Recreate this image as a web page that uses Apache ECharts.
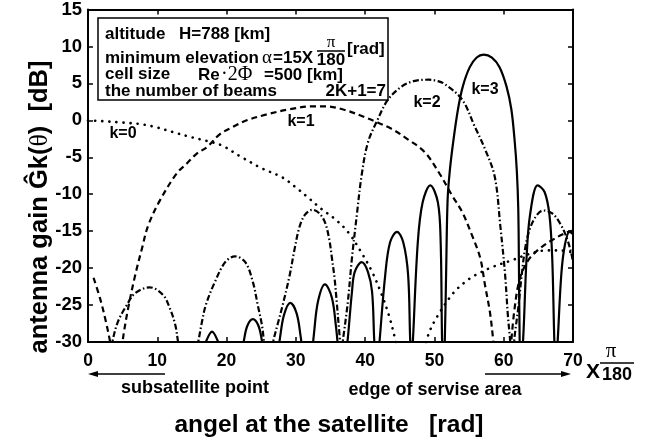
<!DOCTYPE html>
<html>
<head>
<meta charset="utf-8">
<script src="https://cdn.jsdelivr.net/npm/echarts@6/dist/echarts.min.js"></script>
<style>
html,body{margin:0;padding:0;background:#fff;}
#chart{width:653px;height:439px;}
</style>
</head>
<body>
<div id="chart"></div>
<script>
// ---- data (x: angle in degrees*pi/180 units, y: gain dB); null = gap (below -30 dB) ----
const xTicks = [0, 10, 20, 30, 40, 50, 60, 70];
const yTicks = [-30, -25, -20, -15, -10, -5, 0, 5, 10, 15];
const seriesNames = ['k=0', 'k=1', 'k=2', 'k=3'];

const k0 = [[0,0],[2,-0.1],[4.9,-0.3],[7.5,-0.5],[9.7,-0.9],[12.3,-1.6],[15,-2.3],[17.2,-2.8],[19.3,-3.4],[22.2,-5],[25.1,-6.5],[28,-7.7],[29.9,-9],[31.7,-10.4],[33.7,-12],[35.7,-13.4],[37.6,-15.2],[39.4,-17.8],[41,-20.5],[42.4,-23.6],[43.5,-26.6],[44.3,-29.5],[44.6,-31],
  null,
  [48.6,-31],[49.2,-28.8],[50.5,-26.4],[52.7,-23.4],[54.4,-21.9],[55.8,-21],[58.5,-19.8],[61.3,-18.9],[63.3,-18.2],[66.2,-17.6],[68,-17.6],[70,-17.9]];

const k1 = [[0.8,-21.3],[1.8,-24.3],[2.6,-27.3],[3.2,-30],[3.4,-31],
  null,
  [4.9,-31],[5.1,-29.2],[5.8,-25.4],[6.8,-21],[7.8,-17.3],[8.7,-14.2],[10.4,-10.8],[12.8,-7.2],[14.3,-5.8],[15.7,-4.5],[17.2,-3.6],[19,-1.9],[20.9,-0.9],[22.9,0],[25.8,0.8],[29.1,1.5],[32.5,1.9],[34.2,1.9],[37.1,1.4],[40,0.4],[41.8,-0.3],[43.9,-1.2],[46.2,-2.6],[48.6,-4.3],[50.8,-7.3],[52.5,-10.1],[54,-12.4],[55.4,-15.5],[56.6,-18.6],[57.3,-22.3],[58,-25.9],[58.4,-29],[58.6,-31],
  null,
  [61,-31],[61.5,-26],[62.3,-21.5],[63.5,-19],[65,-17.5],[67,-16.2],[69,-15.2],[70,-14.9]];

const k2 = [[3.3,-31],[3.5,-30],[4.3,-27.3],[5.6,-25],[6.8,-23.4],[8.9,-22.6],[10.8,-23.6],[11.8,-25.4],[12.6,-27.7],[13,-30],[13.2,-31],
  null,
  [15.6,-31],[15.9,-30],[16.4,-27.5],[17,-25],[18.3,-21.9],[19.8,-19.2],[21.2,-18.4],[22.7,-19.2],[23.8,-21.9],[24.5,-25],[25.1,-27.7],[25.4,-30],[25.5,-31],
  null,
  [26.5,-31],[26.7,-30],[27.4,-27.5],[28.1,-25],[29.1,-21],[29.8,-17.5],[30.5,-14.5],[31.3,-12.8],[32.4,-12.1],[33.4,-12.6],[34.2,-13.8],[34.8,-16],[35.2,-18.6],[35.6,-21.5],[35.9,-24.6],[36.3,-29],[36.5,-31],
  null,
  [36.6,-31],[36.8,-29.7],[37.5,-24.6],[38.1,-18.6],[38.8,-12.8],[39.5,-7.4],[40.4,-3.0],[41.8,0.1],[43.3,2.8],[45.3,4.6],[47,5.3],[49.2,5.5],[50.5,5.3],[51.5,4.9],[54,2.8],[55.8,-0.8],[57.3,-3.9],[58.7,-7.6],[59.5,-14.2],[60.2,-20.9],[60.6,-26.4],[60.9,-29.5],[61,-31],
  null,
  [61.4,-31],[61.6,-29],[62.1,-25.4],[62.6,-20.9],[63.1,-17.3],[63.8,-14.6],[64.8,-12.8],[65.7,-12.2],[67,-12.6],[68.1,-13.9],[69.1,-15.9],[69.8,-18.2],[70,-19.2]];

const k3 = [[16.8,-31],[17.1,-29.8],[17.9,-28.6],[18.7,-29.8],[19,-31],
  null,
  [22.3,-31],[22.5,-29.8],[23,-27.8],[23.8,-26.9],[24.6,-27.8],[25.1,-29.8],[25.3,-31],
  null,
  [27.5,-31],[27.7,-29.5],[28.3,-26.3],[29.2,-24.7],[30.1,-26.1],[30.7,-29.3],[30.9,-31],
  null,
  [32.4,-31],[32.6,-29],[33.2,-24.5],[34.2,-22.2],[35.2,-24],[35.8,-28],[36.1,-31],
  null,
  [37.3,-31],[37.5,-29.5],[38.1,-23.2],[38.5,-20.5],[39.5,-19.2],[40.4,-20.5],[41,-23.2],[41.3,-29.5],[41.4,-31],
  null,
  [42,-31],[42.1,-29.7],[42.9,-20.9],[43.6,-16.5],[44.6,-15.1],[45.5,-16.5],[46.2,-20.9],[46.5,-29.7],[46.6,-31],
  null,
  [46.8,-31],[46.9,-29.7],[47.6,-16.5],[48.3,-11.1],[49.4,-8.8],[50.5,-11.1],[50.9,-16.5],[51.1,-29.7],[51.2,-31],
  null,
  [51.4,-31],[51.5,-29.7],[51.7,-20],[51.9,-10.8],[52.2,-7],[52.7,-3],[53.4,1.5],[54.1,4.6],[55.1,7.2],[56.1,8.5],[57.1,8.9],[58.3,8.5],[59.4,7.2],[60.4,4.6],[61.1,1.5],[61.6,-3],[61.9,-7],[62.1,-12],[62.2,-20],[62.3,-29.7],[62.4,-31],
  null,
  [62.6,-31],[62.8,-29.7],[63.3,-18.6],[63.8,-12.8],[64.9,-8.8],[65.9,-9.7],[66.6,-12.8],[67,-18.6],[67.3,-29.7],[67.4,-31],
  null,
  [67.7,-31],[67.8,-29.7],[68.3,-21],[68.8,-17],[69.5,-15.1],[70,-15.4]];

// ---- build ----
const FONT = 'Liberation Sans, Arial, Helvetica, sans-serif';
const SERIF = 'Liberation Serif, Times New Roman, serif';
function toData(arr){ return arr.map(p => p === null ? ['-','-'] : p); }

const lineStyles = [
  {color:'#000', width:2.6, type:[0.1,7], cap:'round'},
  {color:'#000', width:2.2, type:[6,4]},
  {color:'#000', width:2.2, type:[6,2.5,1.5,2.5]},
  {color:'#000', width:2.2, type:'solid'}
];
const allData = [k0, k1, k2, k3];

const chart = echarts.init(document.getElementById('chart'), null, {renderer:'canvas'});

const axisCommon = {
  axisLine:{show:true, onZero:false, lineStyle:{color:'#000', width:2}},
  axisTick:{show:true, inside:true, length:5, lineStyle:{color:'#000', width:1.5}},
  splitLine:{show:false}
};

const BOX = 'bold 17px ' + FONT;
function txt(x, y, text, opts){
  return {type:'text', x:x, y:y, z:20, silent:true, style:Object.assign({
    text:text, fill:'#000', font:BOX, textAlign:'left', textVerticalAlign:'middle'
  }, opts || {})};
}

const graphics = [
  // info box
  {type:'rect', shape:{x:98, y:18, width:290, height:82}, style:{fill:'#fff', stroke:'#000', lineWidth:1.5}, z:10},
  txt(105, 34, 'altitude', {}),
  txt(179, 34, 'H=788 [km]', {}),
  txt(105, 58, 'minimum elevation', {}),
  txt(262, 58, 'α', {font:'19px ' + SERIF}),
  txt(273, 58, '=15X', {}),
  txt(331, 43, 'π', {font:'17px ' + SERIF, textAlign:'center'}),
  {type:'line', z:20, shape:{x1:317, y1:51, x2:345, y2:51}, style:{stroke:'#000', lineWidth:1.5}},
  txt(331, 60, '180', {textAlign:'center'}),
  txt(347, 49, '[rad]', {}),
  txt(105, 74, 'cell size', {}),
  txt(198, 75, 'Re', {}),
  txt(221, 75, '·2Φ', {font:'20px ' + SERIF}),
  txt(264, 75, '=500 [km]', {}),
  txt(105, 91, 'the number of beams', {}),
  txt(386, 91, '2K+1=7', {textAlign:'right'}),
  // curve labels
  txt(123, 134, 'k=0', {textAlign:'center', font:'bold 16px ' + FONT}),
  txt(301, 122, 'k=1', {textAlign:'center', font:'bold 16px ' + FONT}),
  txt(427, 103, 'k=2', {textAlign:'center', font:'bold 16px ' + FONT}),
  txt(485, 90, 'k=3', {textAlign:'center', font:'bold 16px ' + FONT}),
  // x unit
  txt(593, 372, 'X', {font:'bold 21px ' + FONT, textAlign:'center'}),
  txt(611, 351, 'π', {font:'21px ' + SERIF, textAlign:'center'}),
  {type:'line', shape:{x1:600, y1:363, x2:634, y2:363}, style:{stroke:'#000', lineWidth:1.5}},
  txt(617, 375, '180', {font:'bold 18px ' + FONT, textAlign:'center'}),
  // arrows
  {type:'line', shape:{x1:92, y1:374, x2:165, y2:374}, style:{stroke:'#000', lineWidth:1.3}},
  {type:'polygon', shape:{points:[[88,374],[98,371],[98,377]]}, style:{fill:'#000'}},
  {type:'line', shape:{x1:485, y1:374, x2:566, y2:374}, style:{stroke:'#000', lineWidth:1.3}},
  {type:'polygon', shape:{points:[[571,374],[561,371],[561,377]]}, style:{fill:'#000'}},
  txt(195, 388, 'subsatellite point', {font:'bold 18px ' + FONT, textAlign:'center'}),
  txt(435, 390, 'edge of servise area', {font:'bold 18px ' + FONT, textAlign:'center'}),
  // axis titles
  txt(329, 425, 'angel at the satellite   [rad]', {font:'bold 24.5px ' + FONT, textAlign:'center'}),
  {type:'text', x:40, y:207, rotation:Math.PI/2, silent:true, style:{
    text:'{a|antenna gain }{a|Ĝk(}{t|θ}{a|)  [dB]}', textAlign:'center', textVerticalAlign:'middle',
    rich:{a:{font:'bold 25.5px ' + FONT, fill:'#000'}, t:{font:'26px ' + SERIF, fill:'#000'}}
  }}
];

const option = {
  animation:false,
  backgroundColor:'#fff',
  grid:{left:88, right:80, top:9, bottom:97, containLabel:false},
  xAxis:[
    Object.assign({type:'value', min:0, max:70, interval:10, position:'bottom',
      axisLabel:{show:true, color:'#000', fontWeight:'bold', fontSize:17.5, fontFamily:FONT, margin:10,
        formatter:v => xTicks.includes(v) ? String(v) : ''}}, axisCommon),
    Object.assign({type:'value', min:0, max:70, interval:10, position:'top', axisLabel:{show:false}}, axisCommon)
  ],
  yAxis:[
    Object.assign({type:'value', min:-30, max:15, interval:5, position:'left',
      axisLabel:{show:true, color:'#000', fontWeight:'bold', fontSize:18.5, fontFamily:FONT, margin:6,
        formatter:v => yTicks.includes(v) ? String(v) : ''}}, axisCommon),
    Object.assign({type:'value', min:-30, max:15, interval:5, position:'right', axisLabel:{show:false}}, axisCommon)
  ],
  series: allData.map((d, i) => ({
    name:seriesNames[i], type:'line', xAxisIndex:0, yAxisIndex:0,
    data:toData(d), showSymbol:false, symbol:'none', smooth:0.35, connectNulls:false, clip:true,
    lineStyle:lineStyles[i], z:3
  })),
  graphic:graphics
};
chart.setOption(option);
</script>
</body>
</html>
